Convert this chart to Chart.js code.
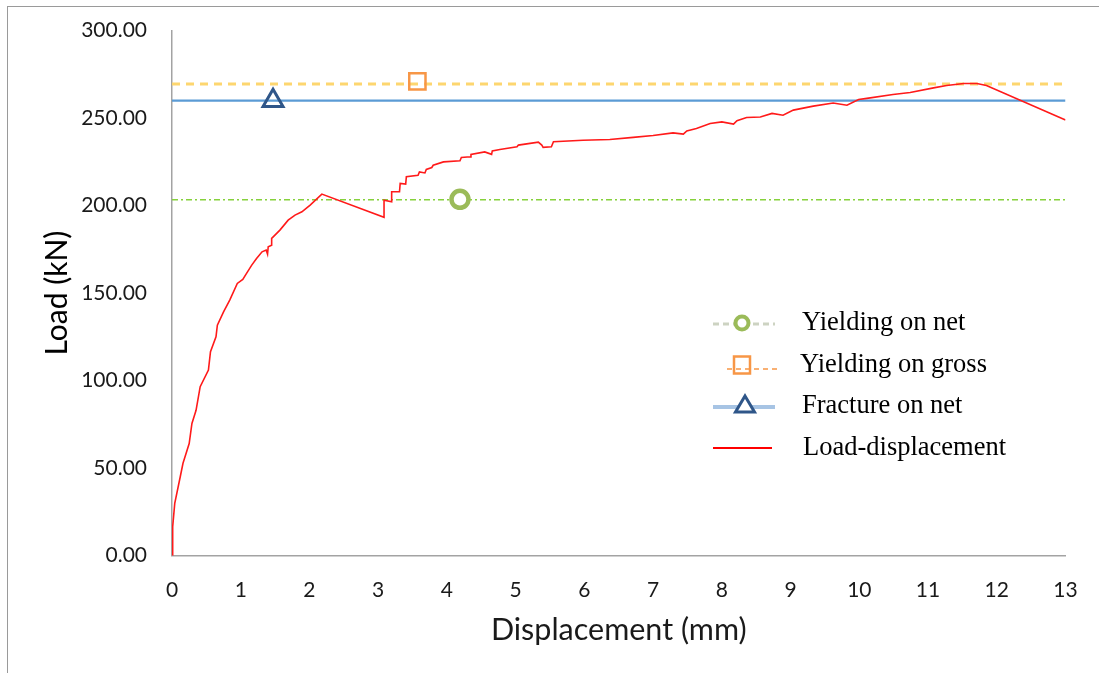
<!DOCTYPE html>
<html>
<head>
<meta charset="utf-8">
<script src="https://cdn.jsdelivr.net/npm/chart.js@4/dist/chart.umd.min.js"></script>
<style>
  html, body { margin: 0; padding: 0; background: #ffffff; overflow: hidden; }
  #wrap { position: relative; width: 1099px; height: 673px; }
  #frame { position: absolute; left: 7px; top: 6px; width: 2000px; height: 2000px;
           border-left: 1.5px solid #9a9a9a; border-top: 1.5px solid #9a9a9a; pointer-events: none; }
  canvas { position: absolute; left: 0; top: 0; }
</style>
</head>
<body>
<div id="wrap">
  <canvas id="c" width="1099" height="673"></canvas>
  <div id="frame"></div>
</div>
<script>
// ---- data ----
const displacement = [0, 0.01, 0.04, 0.12, 0.16, 0.25, 0.29, 0.35, 0.41, 0.53, 0.56, 0.64, 0.66, 0.75, 0.84, 0.95,
  1.03, 1.08, 1.16, 1.23, 1.31, 1.37, 1.39, 1.40, 1.45, 1.45, 1.57, 1.69, 1.79, 1.89, 2.01, 2.18,
  3.085, 3.085, 3.196, 3.196, 3.31, 3.32, 3.40, 3.41, 3.58, 3.60, 3.68, 3.70, 3.78, 3.80, 3.95, 4.19, 4.21,
  4.34, 4.35, 4.55, 4.65, 4.66, 4.77, 5.02, 5.04, 5.33, 5.38, 5.40, 5.52, 5.55, 5.98, 6.37, 6.71, 7.00,
  7.29, 7.44, 7.49, 7.63, 7.83, 8.00, 8.17, 8.22, 8.36, 8.56, 8.73, 8.89, 9.04, 9.33, 9.62, 9.82, 9.99,
  10.11, 10.49, 10.74, 11.08, 11.27, 11.52, 11.71, 11.85, 13.0];
const load = [0, 16.5, 29.8, 45, 52.7, 64, 75.5, 83, 96.5, 106, 116.5, 125, 131.7, 139.3, 146, 155.5,
  157.8, 161, 166, 169.8, 173.6, 174.6, 172.3, 176.5, 177.4, 181.3, 186, 191.7, 194.6, 196.5, 200.3, 206.6,
  193.3, 203.1, 202.2, 207.9, 207.9, 212.7, 212.3, 216.5, 217.4, 219.3, 218.7, 220.7, 221.8, 223.1, 225, 225.6, 227.5,
  227.9, 229.3, 230.7, 229.3, 231.3, 232.1, 233.6, 234.6, 236.3, 234.6, 233.3, 233.6, 236.5, 237.4, 237.8, 239, 240.1,
  241.6, 240.9, 242.7, 244.1, 247, 247.9, 246.6, 248.5, 250.4, 250.7, 252.7, 251.7, 254.6, 256.9, 258.7, 257.4, 260.7,
  261.3, 263.5, 264.7, 267.3, 268.7, 269.8, 269.8, 268.7, 248.9];

const seriesNames = ["Yielding on net", "Yielding on gross", "Fracture on net", "Load-displacement"];
const levelLoads = [203.4, 269.5, 260];      // horizontal reference levels (kN)
const markerDisp = [4.19, 3.57, 1.47];       // marker displacement (mm)
const markerLoad = [203.6, 271, 260];        // marker load (kN)
const xRange = [0, 13];
const yRange = [0, 300];
const yStep = 50;
const xStep = 1;

// ---- chart ----
const curvePoints = displacement.map((d, i) => ({ x: d, y: load[i] }));
const levelLine = (v) => [{ x: xRange[0], y: v }, { x: xRange[1], y: v }];

const legendPlugin = {
  id: 'insideLegend',
  afterDraw(chart) {
    const ctx = chart.ctx;
    ctx.save();
    const sx = 713, tx = 802;
    const rows = [323, 365, 406, 448];
    // row 1: yielding on net
    ctx.lineWidth = 3; ctx.strokeStyle = '#cdd3c2'; ctx.setLineDash([6, 4]);
    ctx.beginPath(); ctx.moveTo(sx, rows[0] + 1); ctx.lineTo(sx + 62, rows[0] + 1); ctx.stroke();
    ctx.setLineDash([]);
    ctx.lineWidth = 4; ctx.strokeStyle = '#9bbb59'; ctx.fillStyle = '#ffffff';
    ctx.beginPath(); ctx.arc(742, rows[0], 6.5, 0, Math.PI * 2); ctx.fill(); ctx.stroke();
    // row 2: yielding on gross
    ctx.lineWidth = 1.5; ctx.strokeStyle = '#f79646'; ctx.setLineDash([5, 4]);
    ctx.beginPath(); ctx.moveTo(727, rows[1] + 4); ctx.lineTo(778, rows[1] + 4); ctx.stroke();
    ctx.setLineDash([]);
    ctx.lineWidth = 2.5; ctx.strokeRect(734, rows[1] - 8.5, 16, 17);
    // row 3: fracture on net
    ctx.lineWidth = 4; ctx.strokeStyle = '#a7c4e4';
    ctx.beginPath(); ctx.moveTo(sx, rows[2] + 1); ctx.lineTo(sx + 62, rows[2] + 1); ctx.stroke();
    ctx.lineWidth = 3; ctx.strokeStyle = '#2f5689'; ctx.fillStyle = '#ffffff';
    ctx.beginPath(); ctx.moveTo(745, rows[2] - 10); ctx.lineTo(754.5, rows[2] + 6); ctx.lineTo(735.5, rows[2] + 6); ctx.closePath();
    ctx.fill(); ctx.stroke();
    // row 4: load-displacement
    ctx.lineWidth = 2; ctx.strokeStyle = '#ff0000';
    ctx.beginPath(); ctx.moveTo(sx, rows[3]); ctx.lineTo(772, rows[3]); ctx.stroke();
    // texts
    ctx.fillStyle = '#000000';
    ctx.font = '26.5px "Liberation Serif", "Times New Roman", serif';
    ctx.textBaseline = 'middle'; ctx.textAlign = 'left';
    const xs = [tx, tx - 2, tx, tx + 1];
    seriesNames.forEach((n, i) => ctx.fillText(n, xs[i], rows[i]));
    ctx.restore();
  }
};

new Chart(document.getElementById('c'), {
  type: 'scatter',
  data: {
    datasets: [
      { label: seriesNames[0] + ' marker', data: [{ x: markerDisp[0], y: markerLoad[0] }], showLine: false,
        pointStyle: 'circle', pointRadius: 8.5, borderColor: '#9bbb59', backgroundColor: '#ffffff', borderWidth: 4.5 },
      { label: seriesNames[1] + ' marker', data: [{ x: markerDisp[1], y: markerLoad[1] }], showLine: false,
        pointStyle: 'rect', pointRadius: 11.5, borderColor: '#f79646', backgroundColor: 'rgba(255,255,255,0)', borderWidth: 2.5 },
      { label: seriesNames[2] + ' marker', data: [{ x: markerDisp[2], y: markerLoad[2] }], showLine: false,
        pointStyle: 'triangle', pointRadius: 11.5, borderColor: '#2f5689', backgroundColor: 'rgba(255,255,255,0)', borderWidth: 3 },
      { label: seriesNames[3], data: curvePoints, showLine: true, pointRadius: 0,
        borderColor: '#ff1a1a', borderWidth: 1.6, tension: 0 },
      { label: seriesNames[0], data: levelLine(levelLoads[0]), showLine: true, pointRadius: 0,
        borderColor: '#86d13c', borderWidth: 1.6, borderDash: [6, 3, 2, 3] },
      { label: seriesNames[1], data: levelLine(levelLoads[1]), showLine: true, pointRadius: 0,
        borderColor: '#fdd66f', borderWidth: 3, borderDash: [8, 6] },
      { label: seriesNames[2], data: levelLine(levelLoads[2]), showLine: true, pointRadius: 0,
        borderColor: '#5b9bd5', borderWidth: 2.2 }
    ]
  },
  options: {
    responsive: false,
    animation: false,
    events: [],
    layout: { padding: { left: 0, top: 30.7, right: 33.5, bottom: 0 } },
    plugins: { legend: { display: false }, tooltip: { enabled: false } },
    scales: {
      x: {
        type: 'linear', min: xRange[0], max: xRange[1],
        afterFit: (s) => { s.height = 117.5; s.paddingLeft = 0; s.paddingRight = 0; },
        grid: { display: false, drawTicks: false },
        border: { display: true, color: '#a3a3a3', width: 1.5 },
        ticks: { stepSize: xStep, padding: 22, color: '#1a1a1a', font: { family: 'Lato', size: 21 } },
        title: { display: true, text: 'Displacement (mm)', color: '#1a1a1a',
                 font: { family: 'Lato', size: 30.5 }, padding: { top: 0, bottom: 25 } }
      },
      y: {
        type: 'linear', min: yRange[0], max: yRange[1],
        afterFit: (s) => { s.width = 172; s.paddingTop = 0; s.paddingBottom = 0; },
        grid: { display: false, drawTicks: false },
        border: { display: true, color: '#a3a3a3', width: 1.5 },
        ticks: { stepSize: yStep, padding: 25, color: '#1a1a1a', font: { family: 'Lato', size: 21 },
                 callback: (v) => Number(v).toFixed(2) },
        title: { display: true, text: 'Load (kN)', color: '#000000',
                 font: { family: 'Lato', size: 30 }, padding: { top: 39, bottom: 0 } }
      }
    }
  },
  plugins: [legendPlugin]
});
</script>
</body>
</html>
